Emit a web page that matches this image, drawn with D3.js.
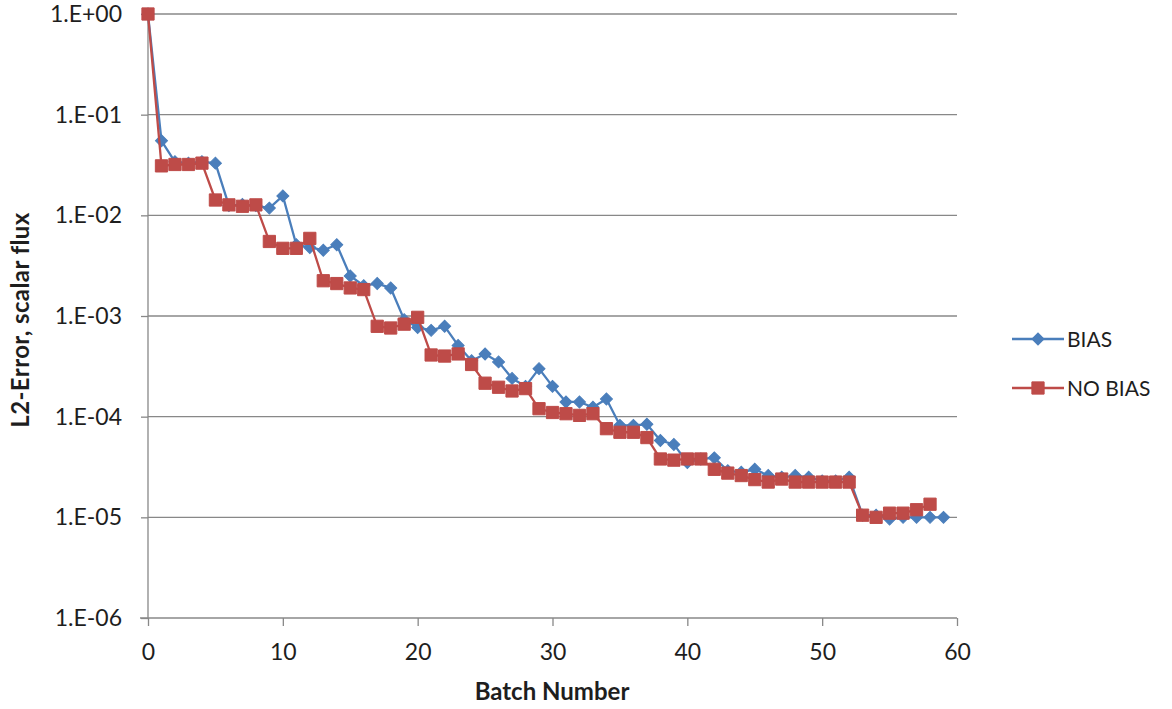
<!DOCTYPE html>
<html>
<head>
<meta charset="utf-8">
<script src="https://cdn.jsdelivr.net/npm/d3@7"></script>
<style>
  html, body { margin: 0; padding: 0; background: #fff; }
  svg { display: block; font-family: Lato, "Open Sans", sans-serif; }
</style>
</head>
<body>
<svg id="chart" width="1172" height="709"></svg>
<script>
// Batch index 0..59 for BIAS, 0..58 for NO BIAS
const bias = [
  1.0, 0.055, 0.034, 0.033, 0.034, 0.033, 0.0125, 0.0128, 0.0125, 0.0118,
  0.0156, 0.0051, 0.0048, 0.0045, 0.0051, 0.0025, 0.0020, 0.0021, 0.0019, 0.00092,
  0.00077, 0.00072, 0.00079, 0.00051, 0.00036, 0.00042, 0.00035, 0.00024, 0.00020, 0.00030,
  0.00020, 0.00014, 0.00014, 0.000124, 0.00015, 8.2e-5, 8.2e-5, 8.4e-5, 5.8e-5, 5.3e-5,
  3.5e-5, 3.8e-5, 3.9e-5, 2.9e-5, 2.8e-5, 3.0e-5, 2.6e-5, 2.5e-5, 2.6e-5, 2.5e-5,
  2.3e-5, 2.3e-5, 2.5e-5, 1.05e-5, 1.05e-5, 9.6e-6, 1.0e-5, 1.0e-5, 1.0e-5, 1.0e-5
];
const noBias = [
  1.0, 0.031, 0.032, 0.032, 0.033, 0.0142, 0.0127, 0.0123, 0.0127, 0.0055,
  0.0047, 0.0047, 0.0059, 0.00224, 0.0021, 0.0019, 0.00183, 0.00079, 0.00076, 0.00083,
  0.00097, 0.00041, 0.00040, 0.00042, 0.00033, 0.000215, 0.000196, 0.00018, 0.00019, 0.00012,
  0.00011, 0.000107, 0.000103, 0.000107, 7.6e-5, 7.0e-5, 7.0e-5, 6.2e-5, 3.8e-5, 3.7e-5,
  3.8e-5, 3.8e-5, 3.0e-5, 2.75e-5, 2.6e-5, 2.37e-5, 2.24e-5, 2.4e-5, 2.24e-5, 2.24e-5,
  2.24e-5, 2.24e-5, 2.24e-5, 1.05e-5, 1.0e-5, 1.1e-5, 1.1e-5, 1.19e-5, 1.35e-5
];
const yTickValues = [1, 1e-1, 1e-2, 1e-3, 1e-4, 1e-5, 1e-6];
const yTickLabels = ["1.E+00", "1.E-01", "1.E-02", "1.E-03", "1.E-04", "1.E-05", "1.E-06"];
const xTickValues = [0, 10, 20, 30, 40, 50, 60];
const seriesNames = ["BIAS", "NO BIAS"];

const svg = d3.select("#chart");
const plotLeft = 148, plotRight = 957, plotTop = 14, plotBottom = 618;

const x = d3.scaleLinear().domain([0, 60]).range([plotLeft, plotRight]);
const y = d3.scaleLog().domain([1e-6, 1]).range([plotBottom, plotTop]);

const gridColor = "#888888";
const textColor = "#1e1e1e";
const blue = "#4A7EBB";
const red = "#BE4B48";

// horizontal gridlines
svg.append("g")
  .selectAll("line")
  .data(yTickValues.slice(0, -1))
  .join("line")
  .attr("x1", plotLeft).attr("x2", plotRight)
  .attr("y1", d => y(d)).attr("y2", d => y(d))
  .attr("stroke", gridColor).attr("stroke-width", 1.3);

// y axis
const yAxis = d3.axisLeft(y)
  .tickValues(yTickValues)
  .tickFormat((d, i) => yTickLabels[i])
  .tickSize(7)
  .tickPadding(19);
const gy = svg.append("g").attr("transform", `translate(${plotLeft},0)`).call(yAxis);
gy.select(".domain").attr("stroke", gridColor).attr("stroke-width", 1.3).attr("d", `M0,${plotTop}V${plotBottom}`);
gy.selectAll(".tick line").attr("stroke", gridColor).attr("stroke-width", 1.3);
gy.selectAll(".tick text").attr("fill", textColor).style("font-size", "23px").style("font-family", "Lato, sans-serif");

// x axis
const xAxis = d3.axisBottom(x)
  .tickValues(xTickValues)
  .tickFormat(d3.format("d"))
  .tickSize(8)
  .tickPadding(18);
const gx = svg.append("g").attr("transform", `translate(0,${plotBottom})`).call(xAxis);
gx.select(".domain").attr("stroke", gridColor).attr("stroke-width", 1.3).attr("d", `M${plotLeft - 8},0H${plotRight}`);
gx.selectAll(".tick line").attr("stroke", gridColor).attr("stroke-width", 1.3);
gx.selectAll(".tick text").attr("fill", textColor).style("font-size", "23px").style("font-family", "Lato, sans-serif");

// axis titles
svg.append("text")
  .attr("x", 552).attr("y", 700)
  .attr("text-anchor", "middle")
  .attr("fill", textColor)
  .style("font-size", "24px").style("font-weight", "bold")
  .text("Batch Number");
svg.append("text")
  .attr("transform", `translate(29,320) rotate(-90)`)
  .attr("text-anchor", "middle")
  .attr("fill", textColor)
  .style("font-size", "24px").style("font-weight", "bold")
  .style("letter-spacing", "0.4px")
  .text("L2-Error, scalar flux");

const line = d3.line().x((d, i) => x(i)).y(d => y(d));

const diamond = d3.symbol().type(d3.symbolSquare).size(72);
const square = d3.symbol().type(d3.symbolSquare).size(150);

// BIAS series
svg.append("path").datum(bias)
  .attr("d", line).attr("fill", "none")
  .attr("stroke", blue).attr("stroke-width", 2.3).attr("stroke-linejoin", "round");
svg.append("g").selectAll("path").data(bias).join("path")
  .attr("transform", (d, i) => `translate(${x(i)},${y(d)}) rotate(45)`)
  .attr("d", diamond).attr("fill", blue).attr("stroke", blue).attr("stroke-width", 1);

// NO BIAS series
svg.append("path").datum(noBias)
  .attr("d", line).attr("fill", "none")
  .attr("stroke", red).attr("stroke-width", 2.3).attr("stroke-linejoin", "round");
svg.append("g").selectAll("path").data(noBias).join("path")
  .attr("transform", (d, i) => `translate(${x(i)},${y(d)})`)
  .attr("d", square).attr("fill", red).attr("stroke", red).attr("stroke-width", 1);

// legend
const legend = svg.append("g");
const legendItems = [
  { name: seriesNames[0], color: blue, sym: diamond, rot: 45, y: 339 },
  { name: seriesNames[1], color: red, sym: square, rot: 0, y: 388 }
];
legendItems.forEach(it => {
  legend.append("line")
    .attr("x1", 1012).attr("x2", 1064).attr("y1", it.y).attr("y2", it.y)
    .attr("stroke", it.color).attr("stroke-width", 2.3);
  legend.append("path")
    .attr("transform", `translate(1038,${it.y}) rotate(${it.rot})`)
    .attr("d", it.sym).attr("fill", it.color).attr("stroke", it.color);
  legend.append("text")
    .attr("x", 1067).attr("y", it.y).attr("dy", "0.36em")
    .attr("fill", textColor)
    .style("font-size", "21px")
    .text(it.name);
});
</script>
</body>
</html>
